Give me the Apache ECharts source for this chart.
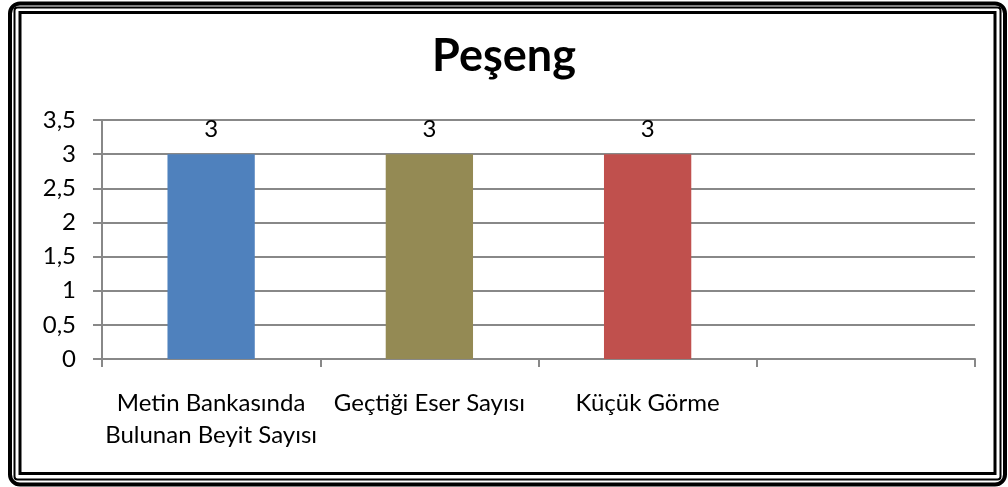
<!DOCTYPE html>
<html>
<head>
<meta charset="utf-8">
<script src="https://cdn.jsdelivr.net/npm/echarts@6/dist/echarts.min.js"></script>
<style>
  html, body { margin: 0; padding: 0; background: #fff; }
  #chart { width: 1008px; height: 487px; }
</style>
</head>
<body>
<div id="chart"></div>
<script>
// veriler
const categories = ['Metin Bankasında\nBulunan Beyit Sayısı', 'Geçtiği Eser Sayısı', 'Küçük Görme', ''];
const values = [3, 3, 3, null];
const barColors = ['#4F81BD', '#948A54', '#C0504D', '#8064A2'];
const yTicks = { min: 0, max: 3.5, interval: 0.5 };

const chart = echarts.init(document.getElementById('chart'));

const fontFamily = 'Lato, "Open Sans", sans-serif';

let option = {
    backgroundColor: '#fff',
    animation: false,
    title: {
        text: 'Peşeng',
        left: 'center',
        top: 29,
        textStyle: { fontFamily: fontFamily, fontSize: 45, fontWeight: 'bold', color: '#000' }
    },
    // çift çerçeve
    graphic: [
        { type: 'rect', shape: { x: 10, y: 3.5, width: 995, height: 481, r: 10 },
          style: { fill: null, stroke: '#000', lineWidth: 4 }, silent: true },
        { type: 'rect', shape: { x: 14.5, y: 7.5, width: 986, height: 472, r: 3 },
          style: { fill: null, stroke: '#000', lineWidth: 2 }, silent: true },
        { type: 'rect', shape: { x: 20, y: 12.5, width: 975, height: 461 },
          style: { fill: null, stroke: '#000', lineWidth: 3 }, silent: true }
    ],
    grid: { left: 102, right: 33, top: 120, bottom: 128 },
    xAxis: {
        type: 'category',
        data: categories,
        axisLine: { lineStyle: { color: '#888', width: 2 } },
        axisTick: { show: true, length: 8, lineStyle: { color: '#888', width: 2 } },
        axisLabel: {
            interval: 0,
            margin: 28,
            fontFamily: fontFamily,
            fontSize: 24,
            lineHeight: 32,
            color: '#000'
        }
    },
    yAxis: {
        type: 'value',
        min: yTicks.min,
        max: yTicks.max,
        interval: yTicks.interval,
        axisLine: { show: true, lineStyle: { color: '#888', width: 2 } },
        axisTick: { show: true, length: 9, lineStyle: { color: '#888', width: 2 } },
        splitLine: { lineStyle: { color: '#888', width: 2 } },
        axisLabel: {
            margin: 26,
            fontFamily: fontFamily,
            fontSize: 24,
            color: '#000',
            formatter: function (v) { return String(v).replace('.', ','); }
        }
    },
    series: [{
        type: 'bar',
        barWidth: '40%',
        data: values.map(function (v, i) {
            return { value: v, itemStyle: { color: barColors[i] } };
        }),
        label: {
            show: true,
            position: 'top',
            distance: 13,
            fontFamily: fontFamily,
            fontSize: 24,
            color: '#000'
        }
    }]
};

chart.setOption(option);
</script>
</body>
</html>
